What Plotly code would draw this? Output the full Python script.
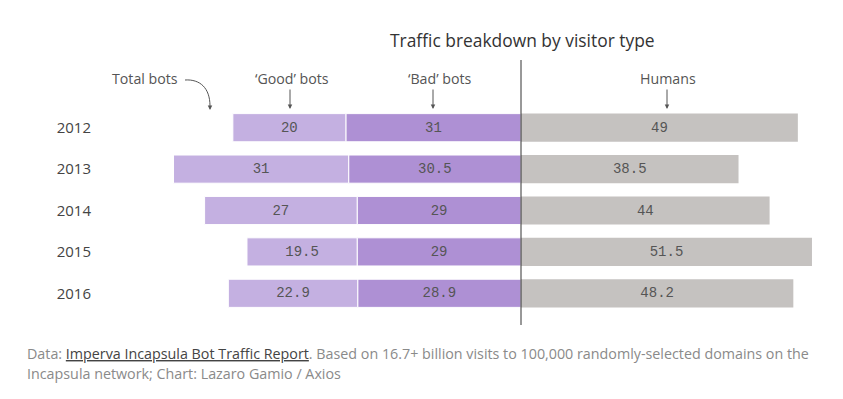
import plotly.graph_objects as go

years = ["2012", "2013", "2014", "2015", "2016"]
good_bots = [20, 31, 27, 19.5, 22.9]
bad_bots = [31, 30.5, 29, 29, 28.9]
humans = [49, 38.5, 44, 51.5, 48.2]
total_bots = [51, 61.5, 56, 48.5, 51.8]

good_lbl = ["20", "31", "27", "19.5", "22.9"]
bad_lbl = ["31", "30.5", "29", "29", "28.9"]
hum_lbl = ["49", "38.5", "44", "51.5", "48.2"]
tot_lbl = ["51", "61.5", "56", "48.5", "51.8"]

C_GOOD = "#c4b0e1"
C_BAD = "#ae90d4"
C_HUM = "#c5c2c0"
SANS = "'Open Sans', Lato, sans-serif"
MONO = "'Liberation Mono', 'Courier New', monospace"
TXT = "#555555"

OFF = 8  # page body margin
W, H = 843 - OFF, 399 - OFF
ML, MR, MT, MB = 92, 0, 99, 85
X0PX = 521.0
PXU = 5.65
PLOT_H = H - MT - MB


def xd(px):
    return (px - X0PX) / PXU


def yp(py):
    return (H - MB - (py - OFF)) / PLOT_H


def xp(px):
    return (px - OFF - ML) / (W - ML - MR)


fig = go.Figure()
common = dict(orientation="h", width=0.68, textposition="inside",
              insidetextanchor="middle", textangle=0,
              insidetextfont=dict(family=MONO, size=14, color=TXT),
              hoverinfo="skip")
fig.add_trace(go.Bar(y=years, x=[-v for v in bad_bots], text=bad_lbl,
                     marker=dict(color=C_BAD, line=dict(color="white", width=1)),
                     name="Bad bots", **common))
fig.add_trace(go.Bar(y=years, x=[-v for v in good_bots], text=good_lbl,
                     marker=dict(color=C_GOOD, line=dict(color="white", width=1)),
                     name="Good bots", **common))
fig.add_trace(go.Bar(y=years, x=humans, text=hum_lbl,
                     marker=dict(color=C_HUM, line=dict(color="white", width=0)),
                     name="Humans", **common))

annotations = []
for yr, t, lbl in zip(years, total_bots, tot_lbl):
    annotations.append(dict(x=-t, y=yr, xref="x", yref="y", text=lbl,
                            showarrow=False, xanchor="right", xshift=-10,
                            font=dict(family=MONO, size=14, color=TXT)))

# Title
annotations.append(dict(x=xp(522), y=yp(40), xref="paper", yref="paper",
                        text="Traffic breakdown by visitor type", showarrow=False,
                        xanchor="center", yanchor="middle",
                        font=dict(family=SANS, size=17.4, color="#333333")))

# Header labels
headers = [("Total bots", 145), ("\u2018Good\u2019 bots", 292),
           ("\u2018Bad\u2019 bots", 439), ("Humans", 668)]
for txt, px in headers:
    annotations.append(dict(x=xd(px), y=yp(78), xref="x", yref="paper", text=txt,
                            showarrow=False, xanchor="center", yanchor="middle",
                            font=dict(family=SANS, size=14.2, color=TXT)))

# Straight arrows
for px in (290, 433, 667):
    annotations.append(dict(x=xd(px), y=yp(109), xref="x", yref="paper", text="",
                            showarrow=True, ax=0, ay=-21, arrowhead=2,
                            arrowsize=0.9, arrowwidth=1, arrowcolor=TXT))
# Arrowhead for curved arrow
annotations.append(dict(x=xd(210), y=yp(110), xref="x", yref="paper", text="",
                        showarrow=True, ax=0, ay=-5, arrowhead=2,
                        arrowsize=0.9, arrowwidth=1, arrowcolor=TXT))

# Footer
annotations.append(dict(x=xp(25), y=yp(353), xref="paper", yref="paper",
                        text="Data: <span style='color:#444444'><u>Imperva Incapsula Bot Traffic Report</u></span>. "
                             "Based on 16.7+ billion visits to 100,000 randomly-selected domains on the",
                        showarrow=False, xanchor="left", yanchor="middle",
                        font=dict(family=SANS, size=14.3, color="#8a8a8a")))
annotations.append(dict(x=xp(25), y=yp(373), xref="paper", yref="paper",
                        text="Incapsula network; Chart: Lazaro Gamio / Axios",
                        showarrow=False, xanchor="left", yanchor="middle",
                        font=dict(family=SANS, size=14.3, color="#8a8a8a")))

shapes = [
    dict(type="line", xref="x", yref="paper", x0=0, x1=0, y0=yp(60), y1=yp(325),
         line=dict(color="#333333", width=1), layer="above"),
    dict(type="path", xref="x", yref="paper",
         path=f"M {xd(185)},{yp(80)} C {xd(200)},{yp(79)} {xd(210)},{yp(88)} {xd(210)},{yp(106)}",
         line=dict(color=TXT, width=1)),
]

fig.update_layout(
    width=W, height=H, barmode="relative",
    margin=dict(l=ML, r=MR, t=MT, b=MB),
    paper_bgcolor="white", plot_bgcolor="white",
    showlegend=False,
    xaxis=dict(range=[xd(ML + OFF), xd(W + OFF - MR)], visible=False, fixedrange=True),
    yaxis=dict(type="category", categoryorder="array", categoryarray=years,
               range=[4.5, -0.5], showgrid=False, zeroline=False, showline=False,
               ticks="", ticklabelstandoff=8,
               tickfont=dict(family=SANS, size=15, color="#444444")),
    annotations=annotations, shapes=shapes,
)

fig.write_html("out.html")
